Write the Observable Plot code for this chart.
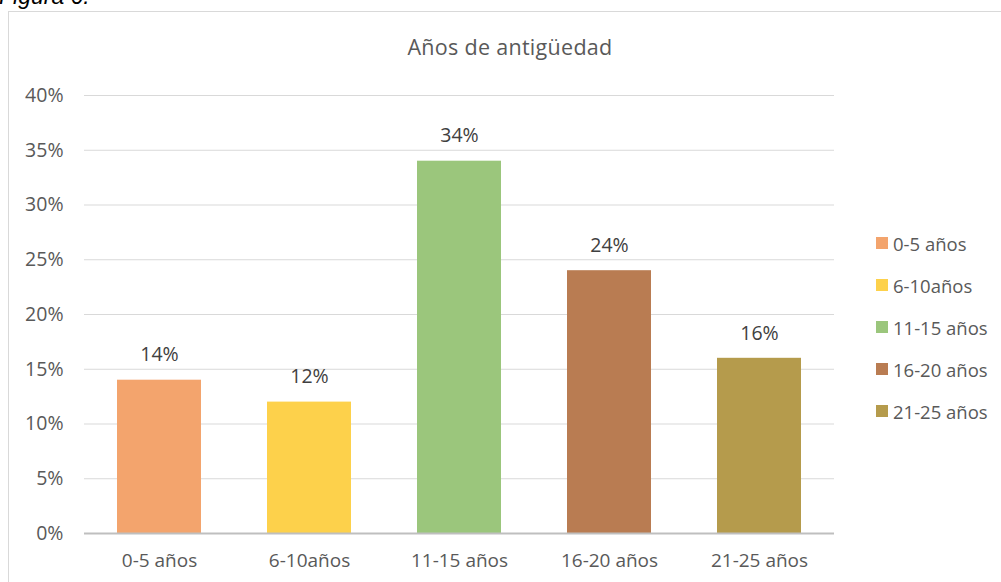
<!DOCTYPE html>
<html>
<head>
<meta charset="utf-8">
<script src="https://cdn.jsdelivr.net/npm/d3@7"></script>
<script src="https://cdn.jsdelivr.net/npm/@observablehq/plot@0.6"></script>
<style>
  html, body { margin: 0; padding: 0; background: #fff; }
  #wrap { position: relative; width: 1001px; height: 582px; overflow: hidden; font-family: "Open Sans", sans-serif; }
  #fig { position: absolute; left: -1px; top: -17px; font-family: "Liberation Sans", Arial, sans-serif; font-style: italic; font-size: 23px; color: #000; }
  #frame { position: absolute; left: 8px; top: 11px; width: 1010px; height: 600px; border: 1.5px solid #d9d9d9; box-sizing: border-box; }
  #title { position: absolute; left: 0; width: 1020px; top: 32px; text-align: center; font-size: 21.5px; color: #595959; letter-spacing: 0.3px; }
  #chart { position: absolute; left: 0; top: 0; }
  #legend { position: absolute; left: 876px; top: 222px; }
  .item { display: flex; align-items: center; height: 42px; font-size: 18.5px; color: #595959; }
  .sw { width: 12px; height: 12px; margin-right: 5px; }
</style>
</head>
<body>
<div id="wrap">
  <div id="fig">Figura 6.</div>
  <div id="frame"></div>
  <div id="title">Años de antigüedad</div>
  <div id="chart"></div>
  <div id="legend"></div>
</div>
<script>
const categories = ["0-5 años", "6-10años", "11-15 años", "16-20 años", "21-25 años"];
const values = [14, 12, 34, 24, 16];
const colors = ["#F3A46D", "#FDD14B", "#9BC67C", "#B97C52", "#B59B4C"];
const yTicks = [0, 5, 10, 15, 20, 25, 30, 35, 40];

const data = categories.map((c, i) => ({category: c, value: values[i]}));

const chart = Plot.plot({
  width: 1001,
  height: 582,
  marginLeft: 84,
  marginRight: 167,
  marginTop: 95,
  marginBottom: 49,
  style: {fontFamily: "'Open Sans', sans-serif", fontSize: "19px", color: "#595959", background: "transparent"},
  x: {domain: categories, paddingInner: 0.44, paddingOuter: 0.22, label: null},
  y: {domain: [0, 40], ticks: yTicks, label: null},
  color: {domain: categories, range: colors},
  marks: [
    Plot.gridY(yTicks.filter(d => d > 0), {stroke: "#d9d9d9", strokeOpacity: 1, strokeWidth: 1}),
    Plot.barY(data, {x: "category", y: "value", fill: "category"}),
    Plot.ruleY([0], {stroke: "#bfbfbf", strokeWidth: 2}),
    Plot.axisY({ticks: yTicks, tickSize: 0, tickPadding: 21, tickFormat: d => d + "%", fontSize: 19.5, fill: "#595959"}),
    Plot.axisX({tickSize: 0, tickPadding: 20, fontSize: 19, fill: "#595959"}),
    Plot.text(data, {x: "category", y: "value", text: d => d.value + "%", dy: -25, fontSize: 19.5, fill: "#404040"})
  ]
});
document.getElementById("chart").appendChild(chart);

const legend = document.getElementById("legend");
categories.forEach((c, i) => {
  const item = document.createElement("div");
  item.className = "item";
  const sw = document.createElement("div");
  sw.className = "sw";
  sw.style.background = colors[i];
  const t = document.createElement("span");
  t.textContent = c;
  item.appendChild(sw);
  item.appendChild(t);
  legend.appendChild(item);
});
</script>
</body>
</html>
